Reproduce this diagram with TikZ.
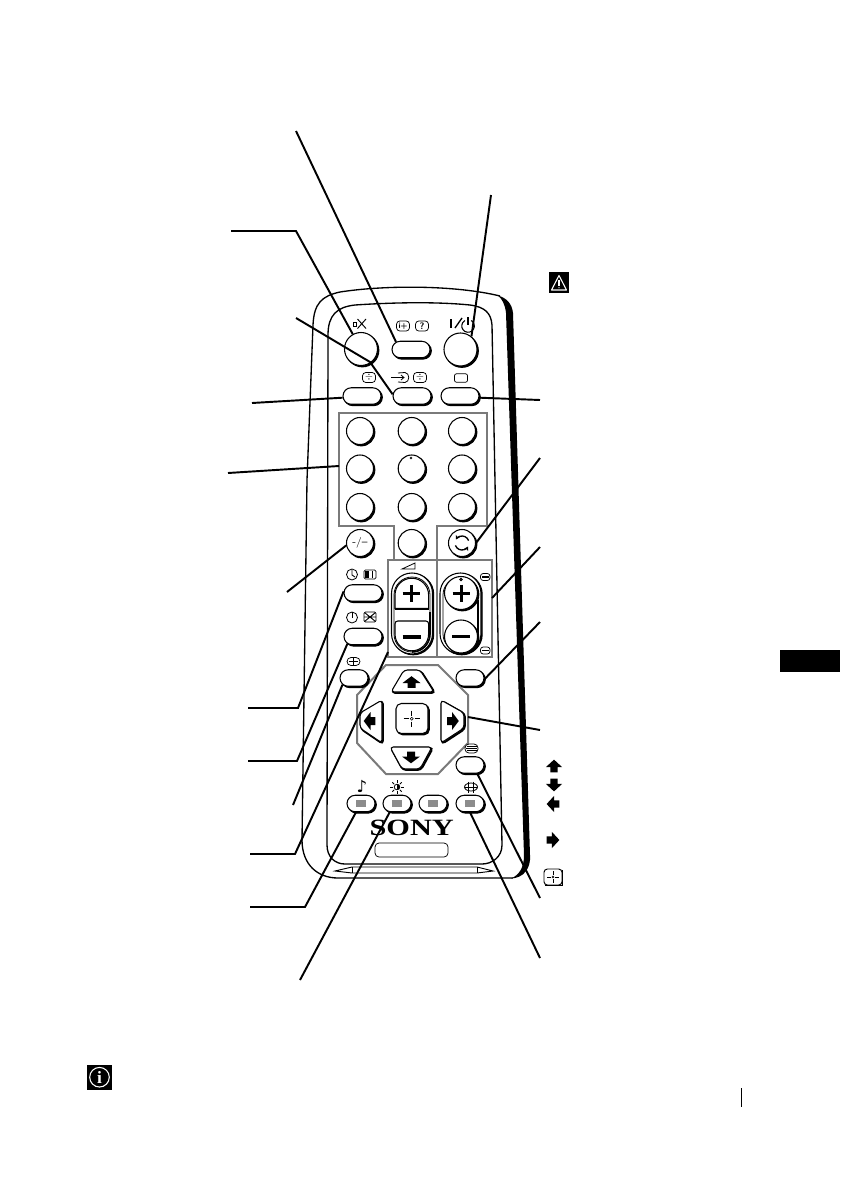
\documentclass[tikz,border=0pt]{standalone}
\usepackage{fontspec}
\setmainfont{Liberation Serif}
\newfontfamily\djv{DejaVu Sans}
\usetikzlibrary{shapes.misc,shadows,calc,arrows.meta}
\tikzset{
  x=.75pt,y=-.75pt,
  shad/.style={copy shadow={shadow xshift=1pt,shadow yshift=-1pt,fill=black,draw=black}},
  rnd/.style={circle,draw=black,fill=white,line width=.8pt,inner sep=0pt,minimum size=#1*.75pt,shad},
  pill/.style={rounded rectangle,draw=black,fill=white,line width=.8pt,inner sep=0pt,minimum width=#1*.75pt,minimum height=16.5*.75pt,shad},
  rocker/.style={rounded rectangle,rounded rectangle arc length=180,rotate=90,draw,fill=white,line width=.8pt,minimum width=81*.75pt,minimum height=41*.75pt,inner sep=0pt,copy shadow={shadow xshift=.9pt,shadow yshift=-.6pt,fill=black,draw=black}},
  padkey/.style={line width=.8pt,fill=white,rounded corners=2.5pt,preaction={draw,line width=1.5pt,transform canvas={xshift=.7pt,yshift=-.7pt}}},
  leader/.style={line width=1.45pt,line cap=butt,line join=miter},
  gbox/.style={draw=black!52,line width=1.5pt,line join=miter},
  outline/.style={draw=black,line width=1pt},
  ico/.style={draw=black,line width=.55pt,rounded corners=1.5pt,fill=white},
  icobox/.style={ico,minimum width=13*.75pt,minimum height=10*.75pt,inner sep=0pt,rounded corners=2.5pt},
}
\newcommand{\blk}[4]{\fill[shift={(#1,#2)},rotate=#3,#4] (0,-5.8) -- (9,1) -- (4,1) -- (4,5.8) -- (-4,5.8) -- (-4,1) -- (-9,1) -- cycle;}
\newcommand{\crosshair}[3]{%
  \begin{scope}[shift={(#1,#2)},scale=#3]
  \draw[line width=.4pt] (0,0) circle (1.5);
  \draw[line width=.45pt] (-8,0)--(-3,0) (3,0)--(8,0) (0,-8)--(0,-3) (0,3)--(0,8);
  \end{scope}}
\begin{document}
\begin{tikzpicture}
\useasboundingbox (0,0) rectangle (840,1192);
\fill[white] (0,0) rectangle (840,1192);
% body
\draw[outline] (302,840) -- (307,480) -- (313,325) .. controls (314,303) and (322,296) .. (340,292)
  .. controls (385,285) and (455,285) .. (500,296);
\draw[outline] (302,840) .. controls (302,865) and (318,878) .. (338,878) -- (513,878);
\fill (498,295.5) .. controls (506,298) and (512,303) .. (513,313) -- (530,855)
  .. controls (531,868) and (524,878) .. (511,878.5) .. controls (519,875) and (524,868) .. (524,855)
  -- (506,313) .. controls (505,304) and (502,299) .. (498,295.5) -- cycle;
\draw[outline] (328,335) .. controls (328,315) and (337,307) .. (355,305)
  .. controls (400,302) and (440,302) .. (470,305) .. controls (485,307) and (491,313) .. (492,325)
  -- (502,845) .. controls (502,857) and (492,864) .. (482,864) -- (345,864)
  .. controls (335,864) and (327,857) .. (327,845) -- cycle;
% slider
\draw[line width=.7pt] (335,871) -- (352,867) -- (477,867) -- (493,871) -- (477,873) -- (352,873) -- cycle;
\draw[line width=.6pt] (352,867) -- (352,873) (477,867) -- (477,873);
% gray groups
\draw[gbox] (388,560) -- (393.5,560) -- (393.5,526) -- (339,526) -- (339,412.7) -- (487,412.7) -- (487,526) -- (436.7,526) -- (436.7,560);
\draw[gbox] (388,560) rectangle (437,657);
\draw[gbox] (437,560) -- (492,560) -- (492,657) -- (437,657);
\draw[gbox] (386,665) -- (438,665) -- (468,695) -- (468,743) -- (438,774) -- (386,774) -- (357,743) -- (357,695) -- cycle;
\coordinate (digitsedge) at (339,466);
\coordinate (voledge) at (388,652);
\coordinate (progedge) at (492,598);
\coordinate (padedge) at (468,717);
% top buttons
\node[rnd=33] (mute) at (361,349) {};
\node[pill=38] (info) at (411,349.5) {};
\node[rnd=33] (power) at (460.5,349.5) {};
\node[pill=38] (tvmode) at (362,396) {};
\node[pill=38] (input) at (412,396) {};
\node[pill=38] (screen) at (460,396) {};
% digits
\node[rnd=27] (d1) at (360,431) {};
\node[rnd=27] (d2) at (411.7,431) {};
\node[rnd=27] (d3) at (462,431) {};
\node[rnd=27] (d4) at (360,468.5) {};
\node[rnd=27] (d5) at (411.7,468.5) {};
\node[rnd=27] (d6) at (462,468.5) {};
\node[rnd=27] (d7) at (360,507) {};
\node[rnd=27] (d8) at (411.7,507) {};
\node[rnd=27] (d9) at (462,507) {};
\node[rnd=27,label={[inner sep=0pt]center:{\sffamily\fontsize{8}{8}\selectfont -/--}}] (dash) at (360,543) {};
\node[rnd=27] (d0) at (411.7,543) {};
\node[rnd=27] (swap) at (462,543) {};
\draw[line width=.5pt] (411,458) circle (1);
% swap icon
\draw[line width=1pt,-{Stealth[length=3pt,width=3.4pt]}] (468.6,540.6) arc (-20:-150:7);
\draw[line width=1pt,-{Stealth[length=3pt,width=3.4pt]}] (455.4,545.4) arc (160:30:7);
% left pills
\node[pill=38] (timer1) at (363,593) {};
\node[pill=38] (timer2) at (363,636.5) {};
\node[pill=28] (wide) at (354,678) {};
\node[pill=28] (menuret) at (470,678) {};
% volume rocker
\node[rocker] (vol) at (412,613.5) {};
\draw[line width=.6pt] (394,595) arc (180:360:18) -- (430,634) arc (0:180:18) -- cycle;
\draw[line width=.8pt,fill=white] (395,608.5) -- (395,595) arc (180:360:16.8) -- (428.6,608.5) -- cycle;
\draw[line width=1.2pt] (395,609) -- (429,609);
\draw[line width=.8pt,fill=white] (395,634) [rounded corners=2pt] -- (395,621) -- (428.6,621) [sharp corners] -- (428.6,634) arc (0:180:16.8) -- cycle;
\draw[line width=1.2pt] (430,612) -- (430,634) arc (0:90:18);
\draw[line width=2.25pt] (402.5,593) -- (420,593) (411.2,584.5) -- (411.2,602);
\draw[line width=2.7pt] (402.5,637) -- (421,637);
\node[inner sep=0pt] (volwedge) at (408.5,566) {};
\draw[line width=.6pt] (402,569) -- (415,563) -- (415,569) -- cycle;
% programme rocker
\node[rocker] (prog) at (460.5,613.5) {};
\draw[line width=.6pt] (443,595) arc (180:360:17.5) -- (478,634) arc (0:180:17.5) -- cycle;
\draw[line width=1.2pt] (478,600) -- (478,634);
\node[rnd=33] (progplus) at (461,593) {};
\node[rnd=33] (progminus) at (461,636.5) {};
\draw[line width=2.25pt] (452.5,593) -- (470,593) (461,584.5) -- (461,602);
\draw[line width=2.7pt] (452,636.5) -- (470,636.5);
\draw[line width=.7pt,fill=black!40] (461,579.5) circle (1.3);
% direction pad
\draw[padkey] (391,692) -- (434,692) -- (420,670) -- (404,670) -- cycle;
\draw[padkey] (390,747) -- (432,747) -- (420,769) -- (402,769) -- cycle;
\draw[padkey] (382,700) -- (382,743) -- (360,728) -- (360,713) -- cycle;
\draw[padkey] (441,700) -- (441,743) -- (464,728) -- (464,713) -- cycle;
\node[rounded corners=4pt,draw,fill=white,line width=.8pt,minimum width=32*.75pt,minimum height=30*.75pt,inner sep=0pt,shad] (okbtn) at (412,718.5) {};
\crosshair{411.7}{718.7}{1}
\blk{411.5}{682}{0}{scale=1}
\blk{411}{757.5}{180}{scale=1}
\blk{369.5}{721}{90}{scale=1}
\blk{453}{721}{-90}{scale=1}
% lower pills
\node[pill=28] (text) at (470,765) {};
\node[pill=28] (c1) at (361,803.5) {};
\node[pill=28] (c2) at (397,803.5) {};
\node[pill=28] (c3) at (433,803.5) {};
\node[pill=28] (c4) at (470,803.5) {};
\foreach \n in {c1,c2,c3,c4} \fill[black!45] ($(\n)+(-4.7,-3.3)$) rectangle ($(\n)+(4.7,3.3)$);
\node[inner sep=0pt,font=\bfseries\fontsize{17.5}{17.5}\selectfont,xscale=1.3] (sony) at (411.7,828) {SONY};
\node[rounded corners=3pt,draw,line width=.55pt,minimum width=73*.75pt,minimum height=14*.75pt,inner sep=0pt] (slot) at (411.5,850) {};
% small icons
\draw[line width=.5pt] (353,322.5) rectangle (356,326);
\draw[line width=.7pt] (357.5,319) -- (366,328.5) (366,319) -- (357.5,328.5);
\node[icobox,font=\sffamily\bfseries\fontsize{6}{6}\selectfont] (icoi) at (403,326) {i+};
\node[icobox,font=\sffamily\bfseries\fontsize{7}{7}\selectfont] (icoq) at (422,326) {?};
\draw[line width=1.3pt] (451,319) -- (451,328);
\draw[line width=1pt] (455,328) -- (462,318);
\draw[line width=.8pt] (471.2,320.5) arc (-60:240:6.3);
\draw[line width=.8pt] (468,317) -- (468,325);
\node[icobox,font=\fontsize{7}{7}\selectfont] (icoa) at (369,377.5) {$\div$};
\node[icobox,font=\fontsize{7}{7}\selectfont] (icob) at (420,377.5) {$\div$};
\draw[line width=.6pt] (391,377.5) -- (404,377.5) (401,375) -- (404,377.5) -- (401,380);
\draw[line width=.6pt] (398,373) -- (405,372.5) .. controls (410,373) and (410,382) .. (405,382.5) -- (398,382);
\node[ico,minimum width=13*.75pt,minimum height=8.5*.75pt,inner sep=0pt] (icoscr) at (461,378) {};
\draw[line width=.6pt] (352,574.5) circle (5.5);
\draw[line width=.7pt] (352,570) -- (352,575) -- (355,577);
\draw[ico,rounded corners=1pt] (364,570) rectangle (376,579);
\fill (365,571) rectangle (369,578);
\draw[line width=.7pt] (372,571) -- (372,578);
\draw[line width=.6pt] (352,617.5) circle (5.5);
\draw[line width=.7pt] (352,612) -- (352,618);
\draw[ico,rounded corners=1pt] (364,612) rectangle (376,622);
\draw[line width=.7pt] (364.5,612.5) -- (375.5,621.5) (375.5,612.5) -- (364.5,621.5) (364,617) -- (376,617);
\draw[ico,rounded corners=3pt] (347,657.5) rectangle (360,665.5);
\draw[line width=.6pt] (349,661.5) -- (358,661.5);
\draw[line width=.5pt] (353.5,657.5) -- (353.5,665.5);
\draw[ico,rounded corners=2pt] (480.5,573.5) rectangle (490,580.5);
\draw[ico,rounded corners=2pt] (480.5,647) rectangle (490,654);
\draw[line width=.9pt] (482,577) -- (489,577) (482,650.5) -- (489,650.5);
\draw[ico,rounded corners=3pt] (465,744) rectangle (478,753);
\draw[line width=.55pt] (466.5,746.5) -- (476.5,746.5) (466,748.5) -- (477,748.5) (466.5,750.5) -- (476.5,750.5);
\node[inner sep=0pt,font=\djv\fontsize{12.5}{12.5}\selectfont] (note) at (362,786) {♪};
\draw[line width=.6pt] (397,787) circle (2.8);
\fill (397,784.2) arc (-90:90:2.8) -- cycle;
\foreach \a in {0,45,...,315} \draw[line width=.55pt] (397,787) ++(\a:4) -- ++(\a:2.7);
\draw[line width=.6pt] (471,787) ellipse (6.5 and 4);
\draw[line width=.6pt] (465,787) -- (477,787) (468.5,781.5) -- (468.5,792.5) (473.5,781.5) -- (473.5,792.5);
% legend marks
\fill (549,272) rectangle (569,293);
\draw[white,line width=.8pt,line join=round] (559,275.5) -- (566.5,290) -- (551.5,290) -- cycle;
\draw[white,line width=.9pt] (559,280) -- (559,285.5);
\fill[white] (559,287.7) circle (.6);
\blk{554}{766}{0}{xscale=.9,yscale=1.1}
\blk{554}{785}{180}{xscale=.9,yscale=1.1}
\blk{553}{804}{90}{xscale=.9,yscale=1.1}
\blk{553}{840}{-90}{xscale=.9,yscale=1.1}
\draw[line width=.7pt,rounded corners=2.5pt] (544,869) rectangle (562,885);
\draw[line width=1.2pt] (545,885.5) -- (562.5,885.5) -- (562.5,870);
\crosshair{553}{877}{.7}
\fill (87,1065) rectangle (112,1089.5);
\draw[white,line width=.8pt] (99.5,1077.2) circle (9.8);
\node[inner sep=0pt,text=white,font=\bfseries\fontsize{13}{13}\selectfont] (infoi) at (99.5,1077.5) {i};
\fill (780,650) rectangle (840,672);
\draw[line width=.9pt] (741.3,1088) -- (741.3,1107);
% free ends of the leaders
\coordinate (e1) at (296,131);
\coordinate (e2) at (491,195);
\coordinate (e3a) at (231,231);
\coordinate (e3b) at (296,231);
\coordinate (e4) at (296,318);
\coordinate (e4b) at (370,362);
\coordinate (e5) at (252,403);
\coordinate (e6) at (228,473);
\coordinate (e7) at (540,400);
\coordinate (e8) at (540,458);
\coordinate (e9) at (540,547);
\coordinate (e10) at (540,622);
\coordinate (e11) at (540,730);
\coordinate (e12) at (540,898);
\coordinate (e13) at (540,958);
\coordinate (e14) at (300,980);
\coordinate (e15a) at (250,907);
\coordinate (e15b) at (305,907);
\coordinate (e16a) at (250,854);
\coordinate (e16b) at (295,854);
\coordinate (e17) at (293,805);
\coordinate (e18a) at (248,761);
\coordinate (e18b) at (297,761);
\coordinate (e19a) at (248,708);
\coordinate (e19b) at (298,708);
\coordinate (e20) at (287,592);
\draw[leader] (e1) -- (info.153);
\draw[leader] (e2) -- (power.50);
\draw[leader] (e3a) -- (e3b) -- (mute.119);
\draw[leader] (e4) -- (e4b) -- (input.175);
\draw[leader] (e5) -- (tvmode.185);
\draw[leader] (e6) -- (digitsedge);
\draw[leader] (e7) -- (screen.-5);
\draw[leader] (e8) -- (swap.0);
\draw[leader] (e9) -- (progedge);
\draw[leader] (e10) -- (menuret.-5);
\draw[leader] (e11) -- (padedge);
\draw[leader] (e12) -- (text.-50);
\draw[leader] (e13) -- (c4.-90);
\draw[leader] (e14) -- (c2.-130);
\draw[leader] (e15a) -- (e15b) -- (c1.-120);
\draw[leader] (e16a) -- (e16b) -- (voledge);
\draw[leader] (e17) -- (wide.-150);
\draw[leader] (e18a) -- (e18b) -- (timer2.-155);
\draw[leader] (e19a) -- (e19b) -- (timer1.175);
\draw[leader] (e20) -- (dash.190);
\end{tikzpicture}
\end{document}
